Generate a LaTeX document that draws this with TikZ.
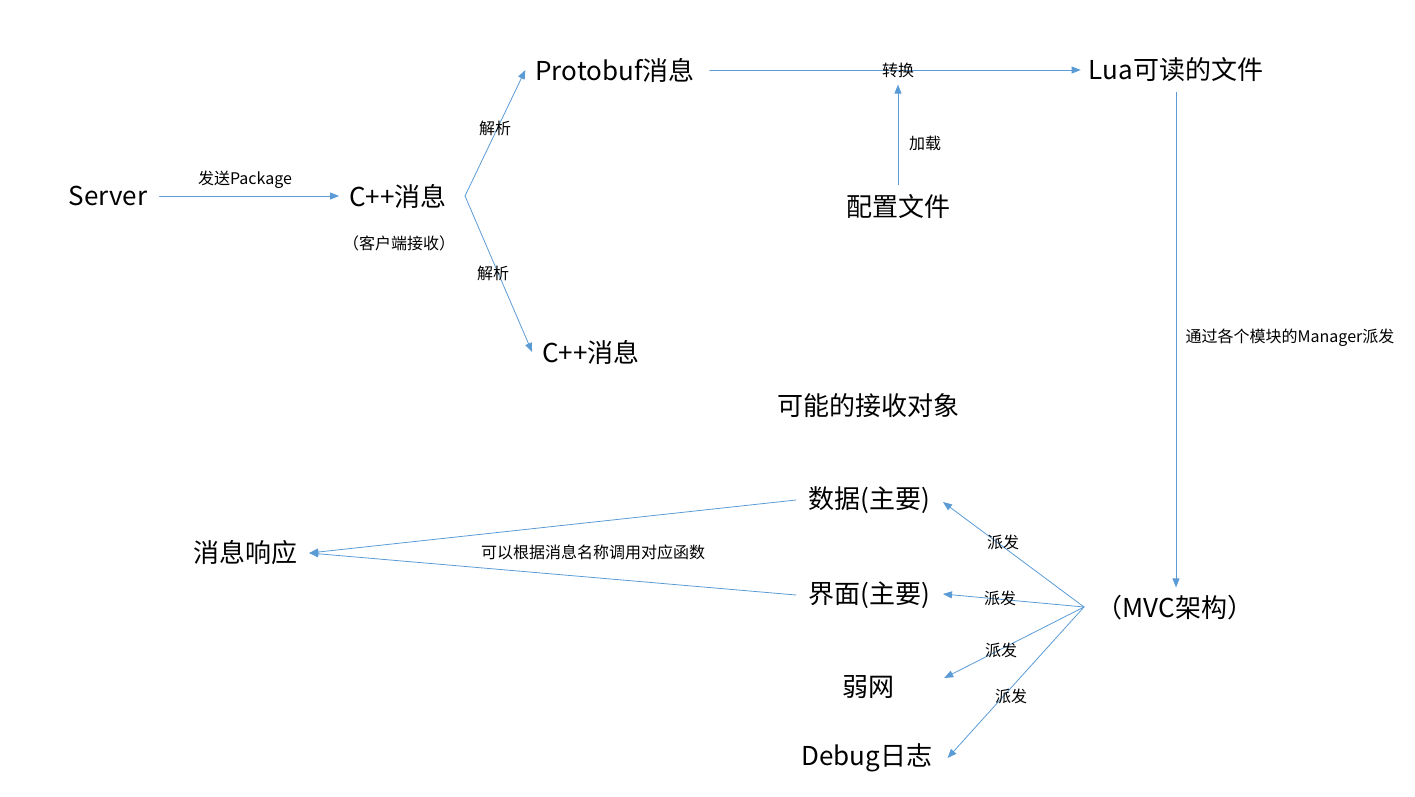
\documentclass[tikz,border=0pt]{standalone}
\usepackage{fontspec}
\newfontfamily\cjk{Noto Sans CJK SC}
\usetikzlibrary{arrows.meta}
\definecolor{linkblue}{HTML}{5B9BD5}

\begin{document}
\begin{tikzpicture}[x=1pt,y=-1pt,>={Triangle[length=9pt,width=7pt]},line cap=round,line join=round,
  big/.style={inner sep=0pt,font=\cjk\fontsize{26}{30}\selectfont},
  tag/.style={inner sep=0pt,font=\cjk\fontsize{16}{18}\selectfont},
  link/.style={->,draw=linkblue,line width=0.8pt}]
\useasboundingbox (0,0) rectangle (1415,797);
\coordinate (split) at (465,196);
\coordinate (hub) at (1084,607);
\node[big] (server) at (108,196) {Server};
\node[big] (recv) at (398,196) {C++消息};
\node[tag] (client) at (399,243) {（客户端接收）};
\node[big] (proto) at (615,70) {Protobuf消息};
\node[big] (cppmsg) at (591,352) {C++消息};
\node[big] (lua) at (1176,70) {Lua可读的文件};
\node[big] (config) at (898,207) {配置文件};
\node[big] (targets) at (868,406) {可能的接收对象};
\node[big] (data) at (869,500) {数据(主要)};
\node[big] (ui) at (869,595) {界面(主要)};
\node[big] (weak) at (868,687) {弱网};
\node[big] (debug) at (867,758) {Debug日志};
\node[big] (reply) at (245,553) {消息响应};
\node[big] (mvc) at (1175,608) {（MVC架构）};
\draw[link,shorten <=12pt,shorten >=10pt] (server.east) -- (recv.west);
\node[tag] (send) at (245,180) {发送Package};
\draw[link] (split) -- ([xshift=-10pt]proto.west);
\draw[link] (split) -- ([xshift=-10pt]cppmsg.west);
\node[tag] (parse1) at (495,128) {解析};
\node[tag] (parse2) at (493,273) {解析};
\draw[link,shorten <=15pt,shorten >=8pt] (proto.east) -- (lua.west);
\node[tag] (swap) at (898,70) {转换};
\draw[link,shorten <=10pt,shorten >=7pt] (config.north) -- (swap.south);
\node[tag] (load) at (925,143) {加载};
\draw[link,shorten <=10pt,shorten >=8pt] (lua.south) -- (lua.south |- mvc.north);
\node[tag] (manager) at (1290,338) {通过各个模块的Manager派发};
\draw[link] (hub) -- ([xshift=13pt,yshift=-2pt]data.east);
\draw[link] (hub) -- ([xshift=13pt,yshift=1pt]ui.east);
\draw[link] (hub) -- ([xshift=50pt,yshift=9pt]weak.east);
\draw[link] (hub) -- ([xshift=15pt]debug.east);
\node[tag] (send1) at (1003,542) {派发};
\node[tag] (send2) at (1000,598) {派发};
\node[tag] (send3) at (1001,650) {派发};
\node[tag] (send4) at (1011,696) {派发};
\draw[link] ([xshift=-12pt]data.west) -- ([xshift=12pt]reply.east);
\draw[link] ([xshift=-12pt]ui.west) -- ([xshift=12pt]reply.east);
\node[tag] (call) at (593,552) {可以根据消息名称调用对应函数};
\end{tikzpicture}
\end{document}
